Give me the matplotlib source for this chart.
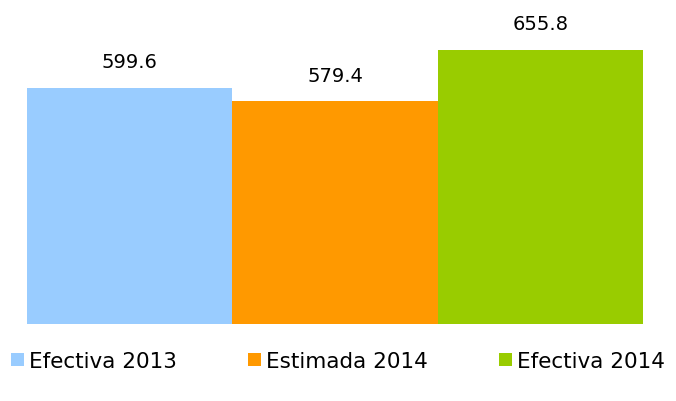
import matplotlib
matplotlib.use("Agg")
import matplotlib.pyplot as plt
from matplotlib.patches import Patch

# data
categories = ["Efectiva 2013", "Estimada 2014", "Efectiva 2014"]
values = [599.6, 579.4, 655.8]
colors = ["#99CCFF", "#FF9900", "#99CC00"]

fig = plt.figure(figsize=(6.76, 4.02), dpi=100)
# axes placed in pixels: bars from x=27..643, baseline at y=325 (from top)
ax = fig.add_axes([27 / 676, (402 - 325) / 402, (643 - 27) / 676, 325 / 402])

bars = ax.bar(range(len(values)), values, width=1.0, color=colors)
ax.set_xlim(-0.5, len(values) - 0.5)
ax.set_ylim(250, 731)
ax.bar_label(bars, labels=[f"{v:.1f}" for v in values], padding=12,
             fontsize=14, color="#000000")
ax.axis("off")

handles = [Patch(facecolor=c, edgecolor="none") for c in colors]
fig.legend(handles, categories, loc="center", bbox_to_anchor=(0.5, 1 - 362 / 402),
           ncol=3, frameon=False, fontsize=15.5, handlelength=0.6, handleheight=0.6,
           handletextpad=0.25, columnspacing=3.3, borderaxespad=0)

fig.savefig("out.png", dpi=100)
